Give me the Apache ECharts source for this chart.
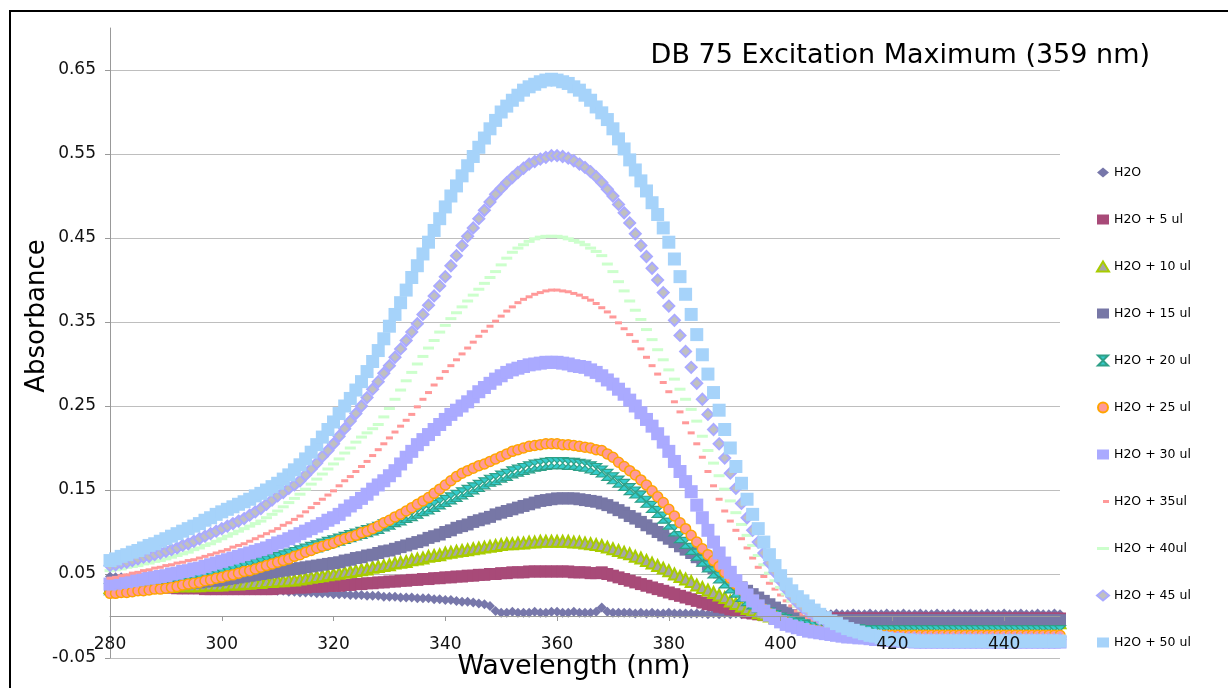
<!DOCTYPE html>
<html>
<head>
<meta charset="utf-8">
<script src="https://cdn.jsdelivr.net/npm/echarts@6/dist/echarts.min.js"></script>
<style>html,body{margin:0;padding:0;background:#fff}#chart{width:1228px;height:688px}</style>
</head>
<body>
<div id="chart"></div>
<script>
const wavelengths = [
280,281,282,283,284,285,286,287,288,289,
290,291,292,293,294,295,296,297,298,299,
300,301,302,303,304,305,306,307,308,309,
310,311,312,313,314,315,316,317,318,319,
320,321,322,323,324,325,326,327,328,329,
330,331,332,333,334,335,336,337,338,339,
340,341,342,343,344,345,346,347,348,349,
350,351,352,353,354,355,356,357,358,359,
360,361,362,363,364,365,366,367,368,369,
370,371,372,373,374,375,376,377,378,379,
380,381,382,383,384,385,386,387,388,389,
390,391,392,393,394,395,396,397,398,399,
400,401,402,403,404,405,406,407,408,409,
410,411,412,413,414,415,416,417,418,419,
420,421,422,423,424,425,426,427,428,429,
430,431,432,433,434,435,436,437,438,439,
440,441,442,443,444,445,446,447,448,449,
450];

const seriesNames = ['H2O','H2O + 5 ul','H2O + 10 ul','H2O + 15 ul','H2O + 20 ul','H2O + 25 ul',
  'H2O + 30 ul','H2O + 35ul','H2O + 40ul','H2O + 45 ul','H2O + 50 ul'];

const h2o = [
.047,.046,.046,.045,.045,.044,.043,.043,.042,.042,
.041,.040,.040,.039,.039,.038,.037,.037,.036,.036,
.035,.035,.034,.034,.033,.033,.032,.032,.031,.031,
.030,.030,.029,.029,.028,.028,.028,.027,.027,.027,
.026,.026,.026,.025,.025,.025,.024,.024,.024,.023,
.023,.023,.022,.022,.022,.021,.021,.021,.020,.020,
.019,.019,.018,.017,.017,.016,.015,.014,.012,.006,
.004,.004,.005,.004,.004,.004,.005,.004,.004,.005,
.005,.004,.004,.005,.004,.004,.004,.005,.010,.005,
.004,.004,.004,.004,.003,.004,.003,.004,.003,.003,
.004,.003,.003,.003,.003,.003,.003,.002,.003,.002,
.003,.002,.003,.002,.002,.002,.003,.002,.002,.002,
.002,.003,.002,.002,.003,.002,.002,.003,.002,.002,
.003,.002,.002,.003,.002,.002,.003,.002,.002,.003,
.002,.002,.003,.002,.002,.003,.002,.002,.003,.002,
.002,.003,.002,.002,.003,.002,.002,.003,.002,.002,
.003,.002,.002,.003,.002,.002,.003,.002,.002,.003,
.002];

const h2o5 = [
.037,.037,.036,.036,.036,.035,.035,.035,.034,.034,
.034,.034,.033,.033,.033,.033,.033,.032,.032,.032,
.032,.032,.032,.032,.032,.032,.032,.032,.032,.032,
.033,.033,.033,.034,.034,.034,.035,.035,.035,.036,
.036,.036,.037,.037,.038,.038,.039,.039,.040,.040,
.041,.041,.042,.042,.043,.043,.044,.044,.045,.045,
.046,.046,.047,.047,.048,.048,.049,.049,.050,.050,
.051,.051,.052,.052,.052,.053,.053,.053,.053,.053,
.053,.053,.053,.052,.052,.052,.051,.051,.052,.050,
.048,.046,.044,.042,.040,.038,.036,.034,.032,.030,
.028,.026,.024,.022,.020,.018,.016,.014,.013,.011,
.010,.008,.007,.006,.004,.003,.002,.001,.000,-.001,
-.001,-.002,-.002,-.003,-.003,-.003,-.003,-.003,-.003,-.003,
-.003,-.003,-.003,-.003,-.003,-.003,-.003,-.003,-.003,-.003,
-.003,-.003,-.003,-.003,-.003,-.003,-.003,-.003,-.003,-.003,
-.003,-.003,-.003,-.003,-.003,-.003,-.003,-.003,-.003,-.003,
-.003,-.003,-.003,-.003,-.003,-.003,-.003,-.003,-.003,-.003,
-.003];

const h2o10 = [
.034,.034,.034,.034,.034,.035,.035,.035,.035,.035,
.035,.035,.036,.036,.036,.036,.036,.037,.037,.037,
.037,.038,.038,.038,.039,.039,.040,.040,.041,.041,
.042,.042,.043,.043,.044,.045,.046,.047,.048,.049,
.050,.051,.052,.053,.054,.055,.056,.058,.059,.060,
.061,.063,.064,.065,.067,.068,.069,.071,.072,.073,
.075,.076,.077,.078,.079,.080,.081,.082,.083,.084,
.085,.086,.086,.087,.087,.088,.088,.089,.089,.089,
.089,.089,.089,.088,.088,.087,.086,.085,.084,.082,
.080,.078,.076,.074,.071,.069,.066,.063,.060,.057,
.054,.050,.047,.044,.041,.037,.034,.031,.028,.025,
.022,.018,.015,.012,.009,.007,.004,.002,.000,-.002,
-.003,-.004,-.005,-.006,-.007,-.007,-.008,-.008,-.008,-.008,
-.008,-.008,-.008,-.008,-.008,-.008,-.008,-.008,-.008,-.008,
-.008,-.008,-.008,-.008,-.008,-.008,-.008,-.008,-.008,-.008,
-.008,-.008,-.008,-.008,-.008,-.008,-.008,-.008,-.008,-.008,
-.008,-.008,-.008,-.008,-.008,-.008,-.008,-.008,-.008,-.008,
-.008];

const h2o15 = [
.036,.036,.036,.036,.036,.037,.037,.037,.037,.037,
.038,.038,.038,.039,.039,.040,.040,.041,.042,.042,
.043,.044,.045,.046,.047,.048,.049,.050,.051,.052,
.053,.054,.055,.056,.057,.058,.059,.060,.061,.062,
.063,.064,.066,.067,.069,.070,.072,.073,.075,.077,
.078,.080,.082,.084,.086,.088,.090,.093,.095,.097,
.100,.102,.105,.107,.109,.112,.114,.116,.118,.121,
.123,.125,.127,.129,.131,.133,.135,.137,.138,.139,
.140,.140,.140,.140,.139,.138,.137,.136,.134,.132,
.129,.126,.123,.119,.116,.112,.108,.104,.100,.096,
.092,.088,.083,.079,.075,.070,.066,.061,.057,.052,
.047,.043,.038,.034,.030,.026,.022,.018,.014,.010,
.007,.004,.001,-.001,-.003,-.004,-.005,-.005,-.005,-.005,
-.005,-.005,-.005,-.005,-.005,-.005,-.005,-.005,-.005,-.005,
-.005,-.005,-.005,-.005,-.005,-.005,-.005,-.005,-.005,-.005,
-.005,-.005,-.005,-.005,-.005,-.005,-.005,-.005,-.005,-.005,
-.005,-.005,-.005,-.005,-.005,-.005,-.005,-.005,-.005,-.005,
-.005];

const h2o20 = [
.032,.032,.033,.033,.034,.035,.035,.036,.037,.037,
.038,.039,.040,.041,.042,.043,.044,.046,.047,.049,
.050,.052,.054,.056,.058,.059,.061,.063,.065,.067,
.069,.071,.073,.075,.077,.079,.081,.083,.085,.087,
.089,.091,.093,.095,.097,.099,.101,.103,.105,.108,
.110,.113,.115,.118,.120,.123,.126,.128,.131,.134,
.137,.140,.143,.146,.149,.152,.155,.158,.161,.163,
.166,.168,.171,.173,.175,.177,.179,.180,.181,.182,
.182,.182,.181,.181,.180,.179,.177,.175,.172,.168,
.164,.160,.156,.151,.147,.142,.136,.130,.124,.117,
.110,.102,.094,.087,.080,.073,.066,.059,.052,.046,
.040,.034,.029,.024,.019,.015,.011,.007,.003,.000,
-.003,-.005,-.007,-.009,-.010,-.012,-.013,-.014,-.015,-.015,
-.016,-.016,-.017,-.017,-.017,-.018,-.018,-.018,-.018,-.018,
-.018,-.018,-.018,-.018,-.018,-.018,-.018,-.018,-.018,-.018,
-.018,-.018,-.018,-.018,-.018,-.018,-.018,-.018,-.018,-.018,
-.018,-.018,-.018,-.018,-.018,-.018,-.018,-.018,-.018,-.018,
-.018];

const h2o25 = [
.027,.027,.028,.028,.029,.030,.030,.031,.032,.032,
.033,.034,.035,.037,.038,.039,.040,.042,.043,.045,
.046,.048,.049,.051,.053,.054,.056,.058,.060,.062,
.064,.066,.068,.071,.073,.076,.078,.081,.083,.085,
.087,.090,.092,.094,.096,.099,.101,.104,.107,.111,
.114,.118,.121,.125,.129,.133,.137,.141,.146,.151,
.156,.161,.166,.170,.173,.176,.179,.181,.184,.187,
.190,.193,.196,.198,.200,.202,.203,.204,.205,.205,
.205,.204,.204,.203,.202,.201,.200,.198,.197,.193,
.189,.183,.178,.173,.168,.162,.156,.149,.142,.135,
.127,.119,.111,.104,.096,.088,.080,.073,.066,.059,
.052,.045,.038,.031,.025,.019,.013,.008,.003,-.001,
-.005,-.008,-.011,-.013,-.015,-.016,-.017,-.018,-.019,-.020,
-.021,-.021,-.022,-.022,-.022,-.023,-.023,-.023,-.023,-.023,
-.023,-.023,-.023,-.023,-.023,-.023,-.023,-.023,-.023,-.023,
-.023,-.023,-.023,-.023,-.023,-.023,-.023,-.023,-.023,-.023,
-.023,-.023,-.023,-.023,-.023,-.023,-.023,-.023,-.023,-.023,
-.023];

const h2o30 = [
.038,.039,.040,.041,.042,.043,.044,.045,.046,.047,
.048,.050,.051,.053,.054,.056,.057,.059,.061,.063,
.065,.067,.069,.071,.073,.075,.077,.079,.081,.084,
.087,.089,.092,.095,.098,.101,.104,.107,.110,.114,
.117,.121,.126,.131,.135,.140,.145,.151,.156,.161,
.167,.173,.181,.189,.196,.204,.210,.216,.222,.228,
.234,.240,.245,.250,.255,.261,.267,.272,.277,.282,
.286,.290,.293,.295,.297,.299,.300,.301,.302,.302,
.302,.301,.300,.298,.297,.296,.293,.290,.286,.281,
.276,.270,.264,.257,.250,.242,.234,.226,.217,.207,
.196,.184,.172,.160,.148,.132,.117,.102,.088,.075,
.063,.052,.042,.033,.025,.018,.012,.006,.001,-.003,
-.007,-.010,-.012,-.014,-.016,-.018,-.019,-.020,-.021,-.022,
-.023,-.024,-.025,-.025,-.026,-.026,-.027,-.028,-.028,-.029,
-.029,-.030,-.030,-.030,-.031,-.031,-.031,-.031,-.031,-.031,
-.031,-.031,-.031,-.031,-.031,-.031,-.031,-.031,-.031,-.031,
-.031,-.031,-.031,-.031,-.031,-.031,-.031,-.031,-.031,-.031,
-.031];

const h2o35 = [
.045,.046,.048,.049,.051,.052,.054,.055,.057,.058,
.060,.061,.063,.064,.066,.067,.069,.071,.073,.075,
.077,.079,.082,.084,.086,.089,.092,.095,.098,.101,
.104,.108,.111,.115,.119,.124,.129,.134,.139,.144,
.149,.155,.161,.166,.172,.178,.184,.191,.198,.205,
.212,.219,.226,.233,.240,.249,.258,.266,.275,.283,
.291,.298,.305,.312,.319,.326,.333,.339,.345,.351,
.357,.363,.368,.373,.377,.380,.383,.385,.387,.388,
.388,.387,.386,.384,.382,.379,.376,.372,.367,.362,
.356,.349,.342,.335,.327,.318,.308,.298,.288,.278,
.267,.255,.243,.230,.218,.205,.189,.172,.155,.139,
.125,.113,.102,.092,.081,.069,.058,.047,.039,.032,
.025,.018,.012,.006,.002,-.002,-.005,-.007,-.009,-.011,
-.012,-.013,-.014,-.015,-.016,-.017,-.018,-.019,-.020,-.020,
-.021,-.021,-.022,-.022,-.022,-.023,-.023,-.023,-.023,-.023,
-.023,-.023,-.023,-.023,-.023,-.023,-.023,-.023,-.023,-.023,
-.023,-.023,-.023,-.023,-.023,-.023,-.023,-.023,-.023,-.023,
-.023];

const h2o40 = [
.054,.055,.056,.058,.059,.060,.062,.063,.065,.066,
.068,.070,.072,.074,.076,.079,.081,.084,.086,.089,
.092,.095,.098,.101,.104,.107,.110,.113,.117,.121,
.125,.130,.135,.140,.145,.151,.157,.163,.169,.175,
.181,.187,.194,.200,.207,.213,.218,.223,.228,.237,
.247,.258,.269,.280,.290,.300,.309,.319,.328,.338,
.346,.354,.361,.368,.375,.382,.389,.396,.403,.410,
.418,.426,.433,.438,.442,.446,.449,.451,.452,.452,
.452,.451,.449,.447,.445,.442,.438,.434,.429,.419,
.410,.398,.387,.375,.364,.353,.341,.329,.317,.305,
.293,.282,.270,.258,.246,.232,.214,.197,.182,.167,
.151,.137,.123,.109,.096,.084,.072,.061,.051,.042,
.034,.026,.018,.012,.007,.003,.000,-.003,-.006,-.008,
-.010,-.012,-.014,-.015,-.017,-.018,-.019,-.020,-.021,-.021,
-.022,-.022,-.023,-.023,-.023,-.024,-.024,-.024,-.024,-.024,
-.024,-.024,-.024,-.024,-.024,-.024,-.024,-.024,-.024,-.024,
-.024,-.024,-.024,-.024,-.024,-.024,-.024,-.024,-.024,-.024,
-.024];

const h2o45 = [
.060,.061,.063,.064,.066,.068,.070,.071,.073,.075,
.077,.079,.081,.084,.086,.089,.092,.095,.098,.101,
.104,.107,.110,.113,.116,.120,.124,.128,.133,.138,
.143,.147,.152,.156,.161,.168,.175,.182,.190,.197,
.205,.214,.223,.232,.241,.250,.260,.270,.279,.289,
.298,.308,.318,.328,.338,.348,.359,.370,.381,.393,
.404,.417,.429,.441,.452,.462,.473,.483,.493,.502,
.509,.516,.522,.528,.533,.538,.541,.544,.546,.548,
.548,.547,.545,.542,.538,.534,.529,.523,.516,.508,
.500,.490,.480,.468,.455,.441,.428,.414,.400,.385,
.369,.352,.334,.315,.296,.277,.258,.240,.222,.205,
.188,.170,.152,.134,.117,.102,.088,.075,.063,.052,
.042,.032,.023,.016,.010,.005,.001,-.003,-.006,-.009,
-.012,-.014,-.016,-.018,-.019,-.021,-.022,-.023,-.024,-.025,
-.026,-.026,-.027,-.027,-.027,-.028,-.028,-.028,-.028,-.028,
-.028,-.028,-.028,-.028,-.028,-.028,-.028,-.028,-.028,-.028,
-.028,-.028,-.028,-.028,-.028,-.028,-.028,-.028,-.028,-.028,
-.028];

const h2o50 = [
.066,.068,.071,.073,.076,.078,.081,.084,.086,.089,
.092,.095,.098,.101,.104,.107,.110,.114,.117,.121,
.124,.127,.130,.133,.136,.139,.143,.146,.150,.154,
.158,.163,.168,.174,.180,.187,.195,.204,.213,.222,
.231,.241,.250,.259,.269,.279,.291,.303,.316,.330,
.345,.359,.373,.388,.403,.417,.431,.445,.459,.473,
.487,.500,.512,.524,.536,.547,.558,.569,.580,.590,
.600,.607,.614,.620,.626,.630,.633,.636,.638,.639,
.638,.636,.634,.630,.626,.620,.614,.606,.599,.591,
.580,.568,.556,.543,.531,.518,.506,.492,.478,.462,
.445,.425,.404,.383,.359,.335,.311,.288,.266,.245,
.222,.200,.178,.158,.139,.121,.104,.088,.073,.060,
.048,.038,.030,.023,.018,.012,.007,.002,-.002,-.006,
-.009,-.012,-.015,-.017,-.019,-.021,-.023,-.024,-.026,-.027,
-.028,-.028,-.029,-.029,-.030,-.030,-.030,-.030,-.030,-.030,
-.030,-.030,-.030,-.030,-.030,-.030,-.030,-.030,-.030,-.030,
-.030,-.030,-.030,-.030,-.030,-.030,-.030,-.030,-.030,-.030,
-.030];

const seriesValues = [h2o, h2o5, h2o10, h2o15, h2o20, h2o25, h2o30, h2o35, h2o40, h2o45, h2o50];

const FONT = 'DejaVu Sans';
const BOWTIE = 'path://M0,0 L10,0 L5,5 L10,10 L0,10 L5,5 Z';
const markerStyles = [
  {symbol: 'diamond', size: 10, color: '#7777AA'},
  {symbol: 'rect', size: 12, color: '#A84A78'},
  {symbol: 'triangle', size: 11, color: '#A6A6A6', border: '#A8CC00', bw: 2},
  {symbol: 'rect', size: 12, color: '#7777A6'},
  {symbol: BOWTIE, size: 11, color: '#33CCCC', border: '#2FA088', bw: 1.2},
  {symbol: 'circle', size: 10, color: '#FF9999', border: '#FFA500', bw: 1.5},
  {symbol: 'rect', size: 13, color: '#AAAAFF'},
  {symbol: 'rect', size: [7, 3], color: '#FF9999'},
  {symbol: 'rect', size: [11, 3], color: '#CCFFCC'},
  {symbol: 'diamond', size: 11, color: '#C0C0C0', border: '#AAAAFF', bw: 2},
  {symbol: 'rect', size: 13, color: '#A6D3FA'}
];
const legendIcons = ['diamond', 'rect', 'triangle', 'rect', BOWTIE, 'circle', 'rect',
  'path://M0,0 L0.01,0 L0.01,0.01 Z M6,0 L12,0 L12,3 L6,3 Z',
  'path://M0,0 L12,0 L12,3 L0,3 Z',
  'diamond', 'rect'];

const series = seriesNames.map((name, i) => {
  const st = markerStyles[i];
  return {
    name: name,
    type: 'scatter',
    symbol: st.symbol,
    symbolSize: st.size,
    symbolKeepAspect: true,
    itemStyle: {
      color: st.color,
      borderColor: st.border || st.color,
      borderWidth: st.bw || 0,
      opacity: 1
    },
    emphasis: {disabled: true},
    data: wavelengths.map((w, k) => [w, seriesValues[i][k]])
  };
});

const chart = echarts.init(document.getElementById('chart'), null, {renderer: 'canvas'});
chart.setOption({
  animation: false,
  backgroundColor: '#ffffff',
  title: {
    text: 'DB 75 Excitation Maximum (359 nm)',
    right: 73, top: 37,
    textStyle: {fontFamily: FONT, fontSize: 27, fontWeight: 'normal', color: '#000'}
  },
  graphic: [{
    type: 'rect', silent: true, z: 100,
    shape: {x: 10, y: 11, width: 1230, height: 700},
    style: {fill: 'none', stroke: '#000', lineWidth: 2}
  }],
  legend: {
    orient: 'vertical',
    left: 1091, top: 161,
    itemGap: 34,
    itemWidth: 12, itemHeight: 10,
    textStyle: {fontFamily: FONT, fontSize: 12.5, color: '#000'},
    data: seriesNames.map((n, i) => ({name: n, icon: legendIcons[i]}))
  },
  grid: {left: 110, right: 168, top: 28, bottom: 30, containLabel: false, outerBoundsMode: 'none'},
  xAxis: {
    type: 'value', min: 280, max: 450, interval: 20, z: 3,
    axisLine: {show: true, onZero: true, onZeroAxisIndex: 0, lineStyle: {color: '#999', width: 1}},
    axisTick: {show: true, length: 5, lineStyle: {color: '#999'}},
    axisLabel: {margin: -22, fontSize: 17, color: '#111', fontFamily: FONT, showMaxLabel: false},
    splitLine: {show: false},
    name: 'Wavelength (nm)', nameLocation: 'middle', nameGap: -5, nameMoveOverlap: false,
    nameTextStyle: {fontFamily: FONT, fontSize: 27, color: '#000', padding: [0, 22, 0, 0]}
  },
  yAxis: {
    type: 'value', min: -0.05, max: 0.7, interval: 0.1,
    axisLine: {show: true, onZero: false, lineStyle: {color: '#999', width: 1}},
    axisTick: {show: true, length: 5, lineStyle: {color: '#999'}},
    axisLabel: {margin: 14, fontSize: 17, color: '#111', fontFamily: FONT, showMaxLabel: false,
      formatter: v => v.toFixed(2)},
    splitLine: {show: true, showMaxLine: false, lineStyle: {color: '#BEBEBE', width: 1.2}},
    name: 'Absorbance', nameLocation: 'middle', nameRotate: 90, nameGap: 60, nameMoveOverlap: false,
    nameTextStyle: {fontFamily: FONT, fontSize: 26, color: '#000', padding: [0, 0, 0, 54]}
  },
  series: series
});
</script>
</body>
</html>
